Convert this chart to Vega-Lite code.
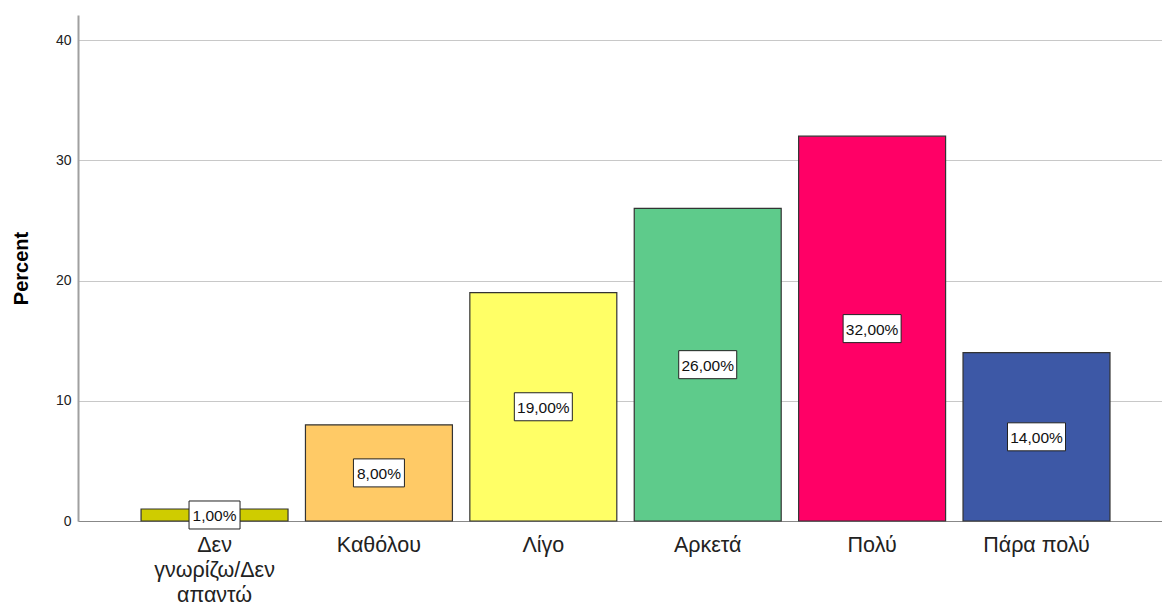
{
  "$schema": "https://vega.github.io/schema/vega-lite/v6.json",
  "autosize": {"type": "none"},
  "padding": {"left": 78, "top": 15, "right": 0, "bottom": 82},
  "width": 1084,
  "height": 506,
  "background": "white",
  "config": {
    "font": "Liberation Sans",
    "view": {"stroke": null}
  },
  "data": {
    "values": [
      {"cat": "Δεν γνωρίζω/Δεν απαντώ", "pct": 1},
      {"cat": "Καθόλου", "pct": 8},
      {"cat": "Λίγο", "pct": 19},
      {"cat": "Αρκετά", "pct": 26},
      {"cat": "Πολύ", "pct": 32},
      {"cat": "Πάρα πολύ", "pct": 14}
    ]
  },
  "transform": [
    {"calculate": "datum.pct / 2", "as": "half"},
    {"calculate": "replace(format(datum.pct, '.2f'), '.', ',') + '%'", "as": "label"}
  ],
  "encoding": {
    "x": {
      "field": "cat",
      "type": "nominal",
      "sort": null,
      "scale": {"paddingInner": 0.106, "paddingOuter": 0.35, "align": 0.548},
      "axis": {
        "title": null,
        "labelAngle": 0,
        "ticks": false,
        "grid": false,
        "domainColor": "#888888",
        "domainWidth": 1,
        "labelFontSize": 21.5,
        "labelColor": "#222222",
        "labelPadding": 13,
        "labelLineHeight": 25,
        "labelExpr": "datum.label == 'Δεν γνωρίζω/Δεν απαντώ' ? ['Δεν', 'γνωρίζω/Δεν', 'απαντώ'] : datum.label"
      }
    }
  },
  "layer": [
    {
      "mark": {"type": "bar", "stroke": "#333333", "strokeWidth": 1.2},
      "encoding": {
        "y": {
          "field": "pct",
          "type": "quantitative",
          "scale": {"domain": [0, 42.08], "nice": false, "zero": true},
          "axis": {
            "title": "Percent",
            "titleFontSize": 20,
            "titleFontWeight": "bold",
            "titleColor": "#000000",
            "titlePadding": 24,
            "values": [0, 10, 20, 30, 40],
            "ticks": false,
            "labelFontSize": 14,
            "labelColor": "#222222",
            "labelPadding": 7,
            "domainColor": "#a0a0a0",
            "domainWidth": 2,
            "grid": true,
            "gridColor": "#c8c8c8",
            "gridWidth": 1
          }
        },
        "color": {
          "field": "cat",
          "type": "nominal",
          "sort": null,
          "legend": null,
          "scale": {
            "domain": ["Δεν γνωρίζω/Δεν απαντώ", "Καθόλου", "Λίγο", "Αρκετά", "Πολύ", "Πάρα πολύ"],
            "range": ["#CFCC00", "#FFCA66", "#FFFF66", "#5ECB8B", "#FF0066", "#3D58A6"]
          }
        }
      }
    },
    {
      "mark": {"type": "point", "filled": true, "fill": "white", "stroke": "#222222", "strokeWidth": 1, "opacity": 1},
      "encoding": {
        "y": {"field": "half", "type": "quantitative"},
        "size": {"condition": {"test": "datum.pct < 10", "value": 2601}, "value": 3364},
        "shape": {
          "condition": {"test": "datum.pct < 10", "value": "M-1,-0.549L1,-0.549L1,0.549L-1,0.549Z"},
          "value": "M-1,-0.483L1,-0.483L1,0.483L-1,0.483Z"
        }
      }
    },
    {
      "mark": {"type": "text", "fontSize": 15.5, "color": "#111111", "baseline": "middle", "align": "center", "dy": 1},
      "encoding": {
        "y": {"field": "half", "type": "quantitative"},
        "text": {"field": "label"}
      }
    }
  ]
}
